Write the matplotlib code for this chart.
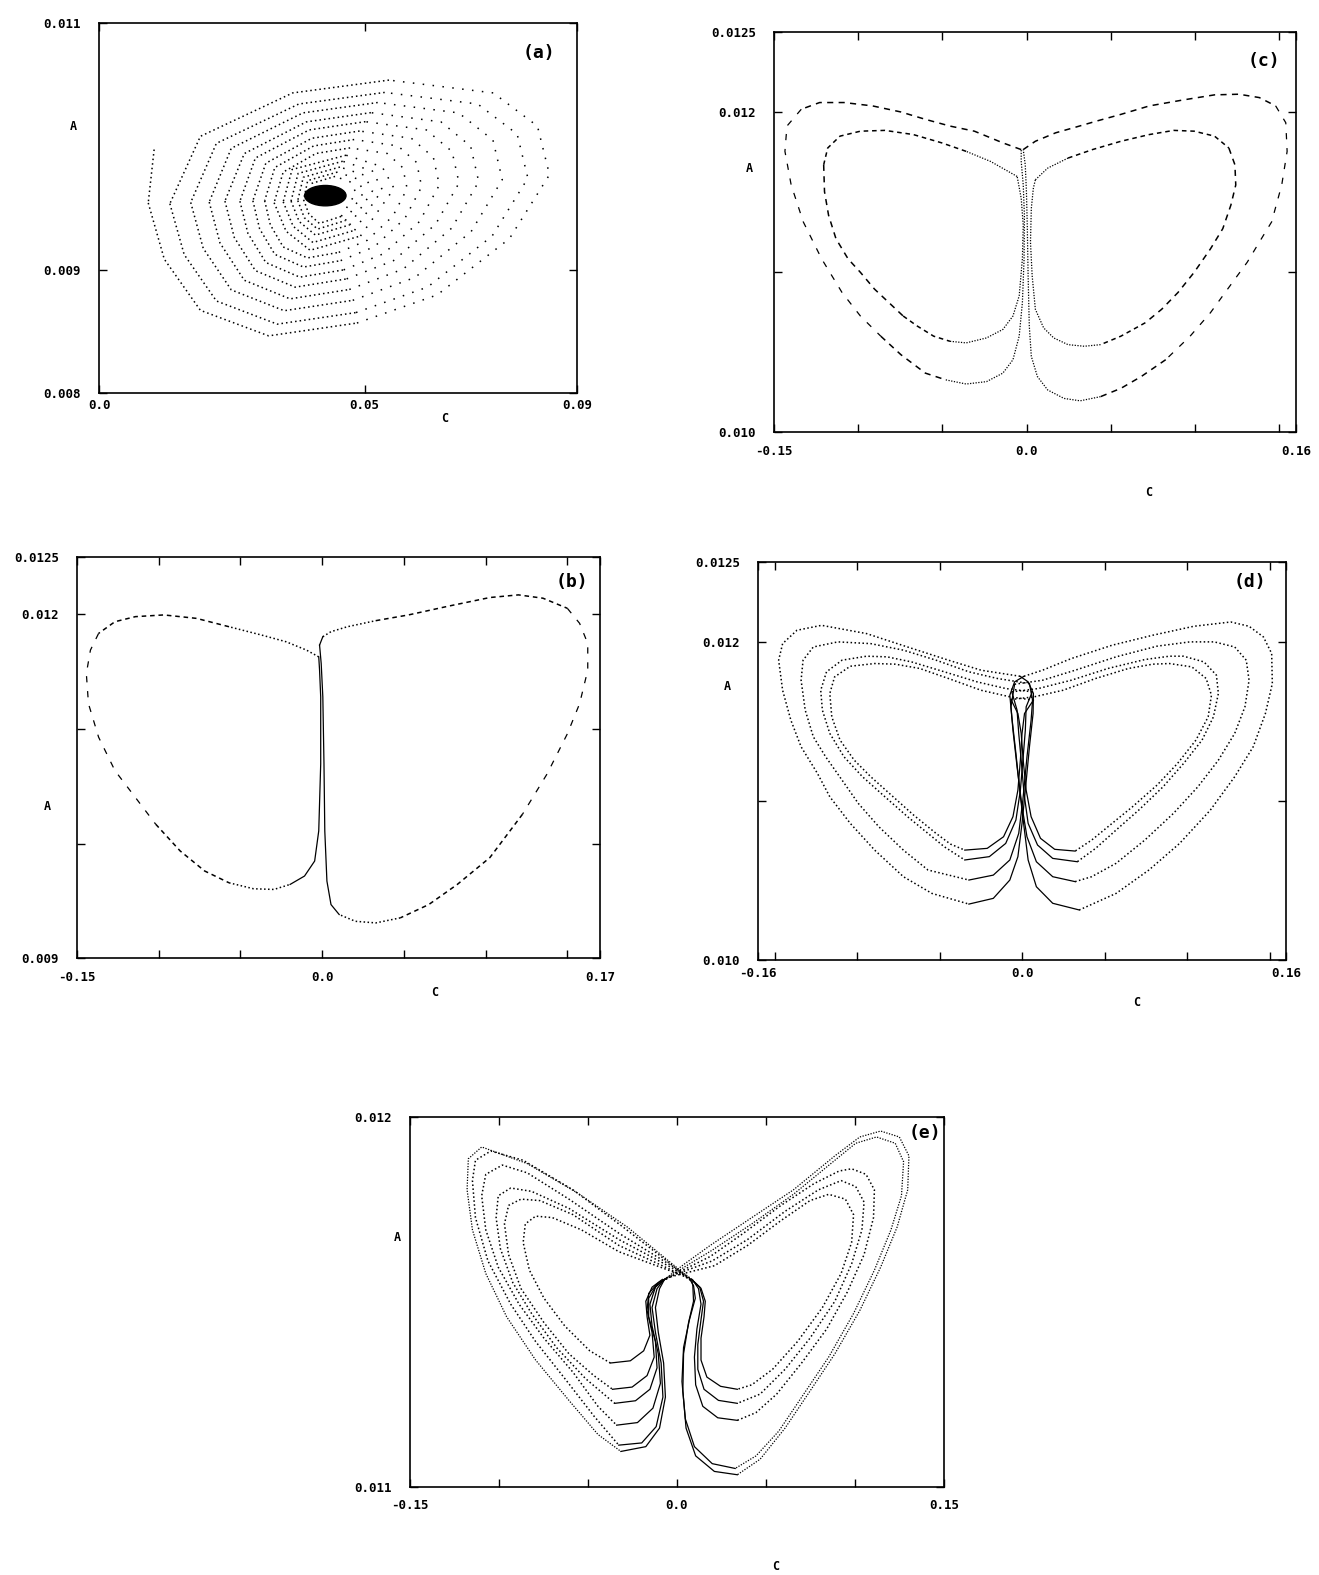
import matplotlib
matplotlib.use('Agg')
import matplotlib.pyplot as plt
import numpy as np
from matplotlib.patches import Ellipse

plt.rcParams['font.family'] = ['DejaVu Sans Mono']
plt.rcParams['font.weight'] = 'bold'

# (a) spiral read ring by ring, outer rings with 13 points, inner ones with 8
SPIRAL_C = [0.01037,
            0.00926, 0.01228, 0.01908, 0.03193, 0.04855, 0.06366, 0.07726, 0.08481, 0.08254, 0.07423, 0.05459, 0.03646, 0.01908,
            0.01333, 0.01603, 0.02209, 0.03355, 0.04838, 0.06187, 0.07400, 0.08074, 0.07872, 0.07130, 0.05378, 0.03760, 0.02209,
            0.01726, 0.01961, 0.02489, 0.03486, 0.04776, 0.05950, 0.07005, 0.07592, 0.07416, 0.06771, 0.05246, 0.03838, 0.02489,
            0.02074, 0.02277, 0.02734, 0.03596, 0.04712, 0.05727, 0.06641, 0.07148, 0.06996, 0.06438, 0.05118, 0.03901, 0.02734,
            0.02370, 0.02546, 0.02943, 0.03692, 0.04662, 0.05544, 0.06337, 0.06778, 0.06646, 0.06161, 0.05015, 0.03957, 0.02943,
            0.02652, 0.02802, 0.03140, 0.03779, 0.04605, 0.05356, 0.06032, 0.06407, 0.06294, 0.05881, 0.04905, 0.04004, 0.03140,
            0.02896, 0.03023, 0.03309, 0.03849, 0.04549, 0.05184, 0.05756, 0.06074, 0.05979, 0.05629, 0.04803, 0.04040, 0.03309,
            0.03118, 0.03225, 0.03467, 0.03923, 0.04513, 0.05049, 0.05532, 0.05800, 0.05720, 0.05425, 0.04727, 0.04084, 0.03467,
            0.03296, 0.03522, 0.03974, 0.04922, 0.05555, 0.05329, 0.04651, 0.03635,
            0.03467, 0.03654, 0.04027, 0.04811, 0.05333, 0.05146, 0.04587, 0.03747,
            0.03615, 0.03768, 0.04075, 0.04719, 0.05148, 0.04995, 0.04535, 0.03845,
            0.03741, 0.03865, 0.04114, 0.04637, 0.04985, 0.04861, 0.04487, 0.03928,
            0.03852, 0.03951, 0.04148, 0.04561, 0.04837, 0.04739, 0.04443, 0.04000]
SPIRAL_A = [0.009974,
            0.009541, 0.009085, 0.008670, 0.008463, 0.008567, 0.008795, 0.009251, 0.009770, 0.010164, 0.010433, 0.010537, 0.010433, 0.010081,
            0.009535, 0.009122, 0.008746, 0.008558, 0.008652, 0.008859, 0.009272, 0.009742, 0.010099, 0.010343, 0.010437, 0.010343, 0.010024,
            0.009545, 0.009173, 0.008836, 0.008667, 0.008751, 0.008937, 0.009308, 0.009730, 0.010051, 0.010271, 0.010355, 0.010271, 0.009984,
            0.009548, 0.009216, 0.008914, 0.008763, 0.008839, 0.009005, 0.009337, 0.009714, 0.010001, 0.010198, 0.010273, 0.010198, 0.009941,
            0.009556, 0.009261, 0.008992, 0.008858, 0.008925, 0.009073, 0.009368, 0.009703, 0.009958, 0.010133, 0.010200, 0.010133, 0.009905,
            0.009555, 0.009295, 0.009058, 0.008939, 0.008998, 0.009129, 0.009389, 0.009686, 0.009911, 0.010065, 0.010124, 0.010065, 0.009863,
            0.009559, 0.009331, 0.009124, 0.009021, 0.009073, 0.009186, 0.009414, 0.009672, 0.009869, 0.010003, 0.010055, 0.010003, 0.009828,
            0.009559, 0.009363, 0.009184, 0.009095, 0.009140, 0.009238, 0.009434, 0.009657, 0.009826, 0.009942, 0.009987, 0.009942, 0.009791,
            0.009543, 0.009311, 0.009157, 0.009273, 0.009658, 0.009835, 0.009928, 0.009812,
            0.009550, 0.009352, 0.009220, 0.009319, 0.009648, 0.009800, 0.009879, 0.009780,
            0.009556, 0.009390, 0.009280, 0.009363, 0.009639, 0.009766, 0.009832, 0.009749,
            0.009560, 0.009421, 0.009329, 0.009398, 0.009629, 0.009736, 0.009791, 0.009722,
            0.009566, 0.009451, 0.009375, 0.009432, 0.009623, 0.009710, 0.009756, 0.009699]
RING_SIZES = [13] * 8 + [8] * 5
FOCUS_C, FOCUS_A = 0.0426, 0.009600
FOCUS_W, FOCUS_H = 0.0078, 0.000165

# (b) periodic orbit, two lobes
B_LEFT_C = [-0.0021, -0.0096, -0.0221, -0.0370, -0.0570, -0.0769, -0.0969, -0.1143, -0.1268, -0.1368,
            -0.1418, -0.1443, -0.1430, -0.1368, -0.1268, -0.1143, -0.1019, -0.0869, -0.0719, -0.0570,
            -0.0420, -0.0295, -0.0196, -0.0108, -0.0046, -0.0021, -0.0009, -0.0009, -0.0016, -0.0021]
B_LEFT_A = [0.011629, 0.011688, 0.011761, 0.011819, 0.011892, 0.011965, 0.011995, 0.011980, 0.011936, 0.011834,
            0.011688, 0.011483, 0.011220, 0.010928, 0.010636, 0.010402, 0.010169, 0.009935, 0.009760, 0.009657,
            0.009605, 0.009599, 0.009643, 0.009716, 0.009847, 0.010110, 0.010695, 0.011279, 0.011513, 0.011629]
B_RIGHT_C = [-0.0016, 0.0004, 0.0054, 0.0154, 0.0328, 0.0528, 0.0777, 0.1026, 0.1201, 0.1351, 0.1500,
             0.1575, 0.1625, 0.1625, 0.1575, 0.1500, 0.1376, 0.1226, 0.1026, 0.0827, 0.0652, 0.0478,
             0.0328, 0.0203, 0.0104, 0.0054, 0.0029, 0.0016, 0.0011, 0.0004, -0.0006, -0.0016]
B_RIGHT_A = [0.011732, 0.011805, 0.011849, 0.011892, 0.011945, 0.011995, 0.012073, 0.012147, 0.012170, 0.012141,
             0.012053, 0.011922, 0.011746, 0.011513, 0.011220, 0.010957, 0.010607, 0.010256, 0.009877, 0.009643,
             0.009467, 0.009351, 0.009307, 0.009321, 0.009380, 0.009467, 0.009672, 0.010110, 0.010695, 0.011279,
             0.011571, 0.011732]

# (c) outer and inner lobe on each side
C_OUTER_L_C = [-0.0032, -0.0141, -0.0310, -0.0455, -0.0601, -0.0746, -0.0915, -0.1084, -0.1229, -0.1338,
               -0.1423, -0.1435, -0.1398, -0.1326, -0.1217, -0.1096, -0.0987, -0.0866, -0.0746, -0.0601,
               -0.0480, -0.0359, -0.0238, -0.0141, -0.0081, -0.0044, -0.0025, -0.0015, -0.0013, -0.0020,
               -0.0032, -0.0032]
C_OUTER_L_A = [0.011765, 0.011807, 0.011880, 0.011912, 0.011954, 0.012000, 0.012038, 0.012059, 0.012059, 0.012017,
               0.011912, 0.011754, 0.011544, 0.011313, 0.011082, 0.010872, 0.010725, 0.010599, 0.010483, 0.010368,
               0.010326, 0.010300, 0.010315, 0.010368, 0.010452, 0.010599, 0.010809, 0.011082, 0.011355, 0.011544,
               0.011691, 0.011765]
C_INNER_L_C = [-0.0056, -0.0214, -0.0359, -0.0504, -0.0673, -0.0842, -0.0987, -0.1108, -0.1181, -0.1205,
               -0.1200, -0.1176, -0.1132, -0.1060, -0.0987, -0.0903, -0.0818, -0.0733, -0.0649, -0.0552,
               -0.0455, -0.0359, -0.0238, -0.0141, -0.0081, -0.0044, -0.0025, -0.0020, -0.0032, -0.0056]
C_INNER_L_A = [0.011597, 0.011691, 0.011754, 0.011807, 0.011859, 0.011885, 0.011880, 0.011849, 0.011775, 0.011670,
               0.011502, 0.011355, 0.011208, 0.011082, 0.010998, 0.010893, 0.010809, 0.010725, 0.010662, 0.010599,
               0.010567, 0.010557, 0.010588, 0.010641, 0.010725, 0.010851, 0.011082, 0.011292, 0.011460, 0.011597]
C_OUTER_R_C = [-0.0020, 0.0052, 0.0173, 0.0294, 0.0415, 0.0560, 0.0729, 0.0923, 0.1116, 0.1261, 0.1382, 0.1479,
               0.1539, 0.1547, 0.1515, 0.1455, 0.1382, 0.1310, 0.1237, 0.1092, 0.0971, 0.0826, 0.0681, 0.0560,
               0.0439, 0.0318, 0.0222, 0.0125, 0.0064, 0.0028, 0.0016, 0.0009, 0.0004, -0.0001, -0.0008, -0.0020]
C_OUTER_R_A = [0.011765, 0.011817, 0.011870, 0.011906, 0.011943, 0.011985, 0.012038, 0.012074, 0.012107, 0.012111,
               0.012090, 0.012038, 0.011933, 0.011754, 0.011544, 0.011313, 0.011187, 0.011061, 0.010956, 0.010746,
               0.010599, 0.010452, 0.010347, 0.010273, 0.010221, 0.010195, 0.010210, 0.010263, 0.010347, 0.010473,
               0.010662, 0.010977, 0.011292, 0.011502, 0.011670, 0.011765]
C_INNER_R_C = [0.0052, 0.0125, 0.0246, 0.0391, 0.0560, 0.0729, 0.0874, 0.0995, 0.1116, 0.1201, 0.1237, 0.1242,
               0.1213, 0.1165, 0.1092, 0.0995, 0.0899, 0.0802, 0.0705, 0.0560, 0.0439, 0.0342, 0.0246, 0.0161,
               0.0101, 0.0052, 0.0033, 0.0023, 0.0028, 0.0040, 0.0052]
C_INNER_R_A = [0.011576, 0.011649, 0.011712, 0.011765, 0.011817, 0.011859, 0.011885, 0.011880, 0.011849, 0.011775,
               0.011670, 0.011544, 0.011418, 0.011271, 0.011145, 0.010998, 0.010872, 0.010767, 0.010683, 0.010599,
               0.010546, 0.010536, 0.010546, 0.010588, 0.010651, 0.010767, 0.010977, 0.011187, 0.011397, 0.011523,
               0.011576]

# (d) four lobes each side
D_L1_C = [-0.0012, -0.0248, -0.0446, -0.0694, -0.0942, -0.1215, -0.1364, -0.1451, -0.1475, -0.1451, -0.1401,
          -0.1339, -0.1240, -0.1165, -0.1041, -0.0893, -0.0719, -0.0546, -0.0322, -0.0174, -0.0074, -0.0025,
          0.0, 0.0020, 0.0045, 0.0067, 0.0069, 0.0037, -0.0012]
D_L1_A = [0.011782, 0.011820, 0.011883, 0.011966, 0.012050, 0.012102, 0.012071, 0.011987, 0.011883, 0.011694,
          0.011506, 0.011339, 0.011172, 0.011025, 0.010858, 0.010690, 0.010523, 0.010418, 0.010351, 0.010387,
          0.010502, 0.010649, 0.010858, 0.011067, 0.011339, 0.011548, 0.011674, 0.011747, 0.011782]
D_L2_C = [0.0045, -0.0149, -0.0322, -0.0521, -0.0719, -0.0917, -0.1116, -0.1265, -0.1327, -0.1339, -0.1314,
          -0.1265, -0.1190, -0.1091, -0.0992, -0.0868, -0.0719, -0.0570, -0.0322, -0.0174, -0.0074, -0.0020,
          0.0005, 0.0030, 0.0055, 0.0064, 0.0045]
D_L2_A = [0.011736, 0.011768, 0.011810, 0.011883, 0.011946, 0.011987, 0.011998, 0.011966, 0.011883, 0.011757,
          0.011569, 0.011402, 0.011276, 0.011130, 0.010983, 0.010837, 0.010690, 0.010565, 0.010502, 0.010533,
          0.010628, 0.010795, 0.011004, 0.011276, 0.011506, 0.011632, 0.011736]
D_L3_C = [0.0062, -0.0099, -0.0273, -0.0471, -0.0669, -0.0818, -0.0942, -0.1091, -0.1185, -0.1220, -0.1210,
          -0.1165, -0.1079, -0.0967, -0.0831, -0.0694, -0.0570, -0.0471, -0.0347, -0.0198, -0.0099, -0.0037,
          -0.0010, 0.0007, 0.0020, 0.0025, 0.0062]
D_L3_A = [0.011684, 0.011705, 0.011747, 0.011810, 0.011872, 0.011904, 0.011908, 0.011883, 0.011810, 0.011694,
          0.011569, 0.011423, 0.011276, 0.011151, 0.011025, 0.010900, 0.010795, 0.010711, 0.010628, 0.010649,
          0.010732, 0.010879, 0.011067, 0.011276, 0.011443, 0.011590, 0.011684]
D_L4_C = [0.0069, -0.0074, -0.0248, -0.0446, -0.0620, -0.0769, -0.0893, -0.1041, -0.1136, -0.1165, -0.1153,
          -0.1103, -0.1017, -0.0917, -0.0793, -0.0657, -0.0521, -0.0434, -0.0347, -0.0211, -0.0112, -0.0055,
          -0.0025, -0.0010, 0.0, 0.0015, 0.0069]
D_L4_A = [0.011632, 0.011653, 0.011694, 0.011768, 0.011831, 0.011858, 0.011862, 0.011845, 0.011778, 0.011674,
          0.011527, 0.011381, 0.011255, 0.011151, 0.011036, 0.010910, 0.010795, 0.010728, 0.010690, 0.010701,
          0.010774, 0.010900, 0.011067, 0.011255, 0.011423, 0.011548, 0.011632]
D_R1_C = [0.0012, 0.0124, 0.0298, 0.0546, 0.0793, 0.1041, 0.1265, 0.1376, 0.1463, 0.1513, 0.1517, 0.1475,
          0.1401, 0.1289, 0.1141, 0.0955, 0.0769, 0.0570, 0.0347, 0.0186, 0.0087, 0.0037, 0.0012, -0.0012,
          -0.0037, -0.0062, -0.0074, -0.0045, 0.0012]
D_R1_A = [0.011782, 0.011820, 0.011893, 0.011977, 0.012040, 0.012096, 0.012123, 0.012096, 0.012029, 0.011925,
          0.011736, 0.011548, 0.011339, 0.011151, 0.010941, 0.010732, 0.010565, 0.010418, 0.010314, 0.010356,
          0.010460, 0.010628, 0.010837, 0.011046, 0.011297, 0.011527, 0.011663, 0.011747, 0.011782]
D_R2_C = [-0.0045, 0.0124, 0.0322, 0.0570, 0.0818, 0.1017, 0.1165, 0.1289, 0.1359, 0.1376, 0.1351, 0.1289,
          0.1190, 0.1066, 0.0917, 0.0744, 0.0570, 0.0422, 0.0322, 0.0186, 0.0087, 0.0030, 0.0, -0.0030,
          -0.0055, -0.0067, -0.0045]
D_R2_A = [0.011732, 0.011757, 0.011820, 0.011904, 0.011971, 0.011998, 0.011998, 0.011966, 0.011883, 0.011757,
          0.011590, 0.011423, 0.011255, 0.011088, 0.010920, 0.010753, 0.010607, 0.010523, 0.010492, 0.010523,
          0.010617, 0.010774, 0.010962, 0.011213, 0.011443, 0.011590, 0.011732]
D_R3_C = [-0.0062, 0.0099, 0.0298, 0.0521, 0.0744, 0.0893, 0.0979, 0.1103, 0.1178, 0.1190, 0.1160, 0.1091,
          0.0979, 0.0855, 0.0707, 0.0570, 0.0446, 0.0335, 0.0186, 0.0094, 0.0037, 0.0012, -0.0005, -0.0020,
          -0.0030, -0.0062]
D_R3_A = [0.011684, 0.011705, 0.011757, 0.011831, 0.011887, 0.011908, 0.011908, 0.011872, 0.011789, 0.011674,
          0.011527, 0.011381, 0.011234, 0.011088, 0.010941, 0.010816, 0.010701, 0.010617, 0.010638, 0.010722,
          0.010858, 0.011046, 0.011255, 0.011423, 0.011569, 0.011684]
D_R4_C = [-0.0067, 0.0074, 0.0248, 0.0446, 0.0645, 0.0793, 0.0893, 0.1029, 0.1116, 0.1148, 0.1128, 0.1054,
          0.0942, 0.0818, 0.0669, 0.0533, 0.0422, 0.0322, 0.0198, 0.0112, 0.0055, 0.0025, 0.0007, -0.0005,
          -0.0025, -0.0067]
D_R4_A = [0.011636, 0.011653, 0.011694, 0.011768, 0.011831, 0.011858, 0.011862, 0.011841, 0.011768, 0.011663,
          0.011527, 0.011381, 0.011234, 0.011098, 0.010962, 0.010847, 0.010753, 0.010684, 0.010695, 0.010764,
          0.010900, 0.011067, 0.011255, 0.011423, 0.011548, 0.011636]

# (e) chaotic attractor: open lobes, each entering over the central crossing from the other side
E_L1_C = [0.0082, -0.0040, -0.0280, -0.0560, -0.0841, -0.1097, -0.1172, -0.1179, -0.1149, -0.1074, -0.0957,
          -0.0794, -0.0607, -0.0444, -0.0315, -0.0175, -0.0098, -0.0065, -0.0075, -0.0105, -0.0121, -0.0098,
          -0.0070]
E_L1_A = [0.011561, 0.011608, 0.011703, 0.011795, 0.011874, 0.011919, 0.011887, 0.011803, 0.011695, 0.011577,
          0.011460, 0.011343, 0.011234, 0.011142, 0.011096, 0.011109, 0.011159, 0.011243, 0.011335, 0.011418,
          0.011485, 0.011536, 0.011561]
E_L2_C = [0.0075, -0.0060, -0.0304, -0.0584, -0.0864, -0.1046, -0.1132, -0.1149, -0.1132, -0.1062, -0.0934,
          -0.0794, -0.0630, -0.0467, -0.0327, -0.0198, -0.0117, -0.0079, -0.0089, -0.0121, -0.0140, -0.0112,
          -0.0075]
E_L2_A = [0.011559, 0.011612, 0.011703, 0.011803, 0.011883, 0.011908, 0.011883, 0.011828, 0.011728, 0.011611,
          0.011494, 0.011393, 0.011293, 0.011192, 0.011113, 0.011119, 0.011163, 0.011243, 0.011335, 0.011418,
          0.011485, 0.011536, 0.011559]
E_L3_C = [0.0089, -0.0020, -0.0327, -0.0607, -0.0841, -0.0981, -0.1074, -0.1097, -0.1074, -0.1004, -0.0887,
          -0.0747, -0.0584, -0.0444, -0.0339, -0.0222, -0.0135, -0.0093, -0.0105, -0.0140, -0.0152, -0.0121,
          -0.0082]
E_L3_A = [0.011559, 0.011595, 0.011686, 0.011778, 0.011849, 0.011870, 0.011845, 0.011787, 0.011695, 0.011594,
          0.011494, 0.011402, 0.011310, 0.011218, 0.011167, 0.011174, 0.011213, 0.011280, 0.011360, 0.011435,
          0.011494, 0.011540, 0.011556]
E_L4_C = [0.0093, 0.0, -0.0327, -0.0607, -0.0817, -0.0934, -0.1004, -0.1016, -0.0992, -0.0922, -0.0817,
          -0.0677, -0.0514, -0.0350, -0.0233, -0.0152, -0.0112, -0.0121, -0.0159, -0.0159, -0.0117, -0.0065]
E_L4_A = [0.011556, 0.011585, 0.011669, 0.011753, 0.011799, 0.011808, 0.011787, 0.011728, 0.011644, 0.011552,
          0.011469, 0.011377, 0.011293, 0.011226, 0.011233, 0.011264, 0.011322, 0.011393, 0.011460, 0.011510,
          0.011544, 0.011562]
E_L5_C = [0.0098, 0.0020, -0.0327, -0.0584, -0.0770, -0.0876, -0.0946, -0.0969, -0.0946, -0.0876, -0.0747,
          -0.0607, -0.0467, -0.0362, -0.0252, -0.0168, -0.0128, -0.0140, -0.0168, -0.0159, -0.0105, -0.0058]
E_L5_A = [0.011554, 0.011575, 0.011653, 0.011736, 0.011774, 0.011778, 0.011761, 0.011711, 0.011628, 0.011536,
          0.011444, 0.011360, 0.011301, 0.011264, 0.011270, 0.011301, 0.011351, 0.011418, 0.011477, 0.011523,
          0.011552, 0.011565]
E_L6_C = [0.0082, 0.0030, -0.0327, -0.0537, -0.0700, -0.0794, -0.0852, -0.0864, -0.0829, -0.0747, -0.0630,
          -0.0490, -0.0374, -0.0262, -0.0187, -0.0152, -0.0168, -0.0175, -0.0140, -0.0082]
E_L6_A = [0.011561, 0.011572, 0.011636, 0.011695, 0.011728, 0.011732, 0.011711, 0.011661, 0.011586, 0.011510,
          0.011435, 0.011368, 0.011335, 0.011341, 0.011368, 0.011410, 0.011460, 0.011502, 0.011540, 0.011561]
E_R1_C = [-0.0070, 0.0040, 0.0187, 0.0420, 0.0654, 0.0887, 0.1027, 0.1144, 0.1249, 0.1303, 0.1296, 0.1237, 0.1144,
          0.1027, 0.0887, 0.0747, 0.0607, 0.0467, 0.0339, 0.0210, 0.0105, 0.0051, 0.0033, 0.0037, 0.0065, 0.0093,
          0.0089, 0.0082]
E_R1_A = [0.011561, 0.011602, 0.011653, 0.011728, 0.011803, 0.011895, 0.011946, 0.011962, 0.011946, 0.011895,
          0.011803, 0.011703, 0.011594, 0.011477, 0.011360, 0.011259, 0.011159, 0.011075, 0.011033, 0.011042,
          0.011084, 0.011159, 0.011259, 0.011360, 0.011444, 0.011502, 0.011544, 0.011561]
E_R2_C = [-0.0075, 0.0060, 0.0198, 0.0420, 0.0654, 0.0864, 0.1004, 0.1121, 0.1226, 0.1273, 0.1261, 0.1202, 0.1109,
          0.0992, 0.0852, 0.0712, 0.0572, 0.0444, 0.0327, 0.0198, 0.0098, 0.0047, 0.0028, 0.0037, 0.0070, 0.0103,
          0.0093, 0.0075]
E_R2_A = [0.011559, 0.011600, 0.011640, 0.011711, 0.011791, 0.011874, 0.011929, 0.011946, 0.011929, 0.011879,
          0.011787, 0.011695, 0.011586, 0.011469, 0.011351, 0.011251, 0.011151, 0.011084, 0.011050, 0.011063,
          0.011109, 0.011184, 0.011285, 0.011377, 0.011452, 0.011510, 0.011544, 0.011559]
E_R3_C = [-0.0082, 0.0020, 0.0187, 0.0374, 0.0584, 0.0770, 0.0911, 0.0981, 0.1062, 0.1109, 0.1104, 0.1051, 0.0957,
          0.0841, 0.0700, 0.0560, 0.0444, 0.0339, 0.0229, 0.0145, 0.0105, 0.0098, 0.0112, 0.0135, 0.0121, 0.0089]
E_R3_A = [0.011556, 0.011583, 0.011623, 0.011686, 0.011761, 0.011820, 0.011854, 0.011860, 0.011845, 0.011803,
          0.011728, 0.011628, 0.011527, 0.011427, 0.011335, 0.011251, 0.011201, 0.011180, 0.011187, 0.011218,
          0.011276, 0.011351, 0.011427, 0.011494, 0.011536, 0.011559]
E_R4_C = [-0.0065, 0.0, 0.0198, 0.0397, 0.0607, 0.0794, 0.0922, 0.1004, 0.1051, 0.1039, 0.0981, 0.0887, 0.0747,
          0.0607, 0.0467, 0.0339, 0.0233, 0.0152, 0.0117, 0.0117, 0.0135, 0.0149, 0.0128, 0.0093]
E_R4_A = [0.011562, 0.011576, 0.011611, 0.011669, 0.011745, 0.011803, 0.011828, 0.011812, 0.011770, 0.011695,
          0.011603, 0.011502, 0.011402, 0.011318, 0.011251, 0.011226, 0.011234, 0.011264, 0.011318, 0.011385,
          0.011452, 0.011502, 0.011540, 0.011556]
E_R5_C = [-0.0058, -0.0020, 0.0210, 0.0397, 0.0584, 0.0747, 0.0852, 0.0946, 0.0992, 0.0981, 0.0922, 0.0817, 0.0677,
          0.0537, 0.0420, 0.0339, 0.0245, 0.0168, 0.0135, 0.0135, 0.0152, 0.0159, 0.0135, 0.0098]
E_R5_A = [0.011565, 0.011570, 0.011598, 0.011653, 0.011720, 0.011774, 0.011791, 0.011778, 0.011736, 0.011661,
          0.011577, 0.011485, 0.011393, 0.011318, 0.011276, 0.011264, 0.011272, 0.011297, 0.011343, 0.011402,
          0.011460, 0.011502, 0.011537, 0.011554]

# axis ticks and their labels per panel
A_XT, A_XL = [0.0, 0.05, 0.09], ['0.0', '0.05', '0.09']
A_YT, A_YL = [0.008, 0.009, 0.011], ['0.008', '0.009', '0.011']
B_XT = [-0.15, -0.10, -0.05, 0.0, 0.05, 0.10, 0.15, 0.17]
B_XL = ['-0.15', '', '', '0.0', '', '', '', '0.17']
B_YT, B_YL = [0.009, 0.010, 0.011, 0.012, 0.0125], ['0.009', '', '', '0.012', '0.0125']
C_XT = [-0.15, -0.10, -0.05, 0.0, 0.05, 0.10, 0.15, 0.16]
C_XL = ['-0.15', '', '', '0.0', '', '', '', '0.16']
C_YT, C_YL = [0.010, 0.011, 0.012, 0.0125], ['0.010', '', '0.012', '0.0125']
D_XT = [-0.16, -0.15, -0.10, -0.05, 0.0, 0.05, 0.10, 0.15, 0.16]
D_XL = ['-0.16', '', '', '', '0.0', '', '', '', '0.16']
D_YT, D_YL = [0.010, 0.011, 0.012, 0.0125], ['0.010', '', '0.012', '0.0125']
E_XT = [-0.15, -0.10, -0.05, 0.0, 0.05, 0.10, 0.15]
E_XL = ['-0.15', '', '', '0.0', '', '', '0.15']
E_YT, E_YL = [0.011, 0.012], ['0.011', '0.012']

DOTS = dict(ls=(0, (1, 1.6)), lw=1.1)
FINE = dict(ls=(0, (1, 1.2)), lw=0.9)
DASH_S = dict(ls=(0, (3, 2.5)), lw=1.1)
DASH = dict(ls=(0, (4, 3.5)), lw=1.1)
LDASH = dict(ls=(0, (5, 7)), lw=0.9)
SOLID = dict(ls='-', lw=0.9)
SPIRAL_DENSE = dict(ls=(0, (1, 2.0)), lw=1.1)
SPIRAL_SPARSE = dict(ls=(0, (1, 5.5)), lw=1.1)


def seg(ax, c, a, i, j, style):
    ax.plot(c[i:j + 1], a[i:j + 1], color='black', dash_capstyle='butt', **style)


def lobe(ax, c, a, outer, inner):
    # dotted part runs down to the lowest point, then the solid stem back up the centre
    k = int(np.argmin(a))
    seg(ax, c, a, 0, k, outer)
    seg(ax, c, a, k, len(c) - 1, inner)


def spiral(ax):
    seg(ax, SPIRAL_C, SPIRAL_A, 0, 1, SPIRAL_DENSE)
    start = 1
    last = len(SPIRAL_C) - 1
    for n in RING_SIZES:
        s0, s1 = (4, 10) if n == 13 else (3, 6)
        seg(ax, SPIRAL_C, SPIRAL_A, start, start + s0, SPIRAL_DENSE)
        seg(ax, SPIRAL_C, SPIRAL_A, start + s0, start + s1, SPIRAL_SPARSE)
        seg(ax, SPIRAL_C, SPIRAL_A, start + s1, min(start + n, last), SPIRAL_DENSE)
        start += n
    ax.add_patch(Ellipse((FOCUS_C, FOCUS_A), FOCUS_W, FOCUS_H, color='black'))


def frame(ax, xlim, ylim, xt, xl, yt, yl, xpad, label, lpos, apos, cpos):
    ax.set_xlim(*xlim)
    ax.set_ylim(*ylim)
    ax.set_xticks(xt)
    ax.set_xticklabels(xl)
    ax.set_yticks(yt)
    ax.set_yticklabels(yl)
    ax.tick_params(direction='in', length=6, width=1.0, top=True, right=True, labelsize=9)
    ax.tick_params(axis='x', pad=xpad)
    ax.tick_params(axis='y', pad=13)
    for s in ax.spines.values():
        s.set_linewidth(1.2)
    ax.text(lpos[0], lpos[1], label, transform=ax.transAxes, fontsize=13,
            ha='center', va='center')
    ax.text(apos[0], apos[1], 'A', transform=ax.transAxes, fontsize=8.5, ha='center', va='center')
    ax.text(cpos[0], cpos[1], 'C', transform=ax.transAxes, fontsize=8.5, ha='center', va='center')


def main():
    fig = plt.figure(figsize=(13.19, 15.75), dpi=100)

    ax = fig.add_axes([0.0751, 0.7505, 0.3624, 0.2349])
    spiral(ax)
    frame(ax, (0.0, 0.09), (0.008, 0.011), A_XT, A_XL, A_YT, A_YL, 4, '(a)',
          (0.92, 0.92), (-0.054, 0.72), (0.723, -0.068))

    ax = fig.add_axes([0.5868, 0.7257, 0.3958, 0.2540])
    for i, j, st in [(0, 9, DASH), (9, 17, LDASH), (17, 20, DASH), (20, 31, FINE)]:
        seg(ax, C_OUTER_L_C, C_OUTER_L_A, i, j, st)
    for i, j, st in [(0, 2, FINE), (2, 9, DASH_S), (9, 17, DASH), (17, 20, DASH_S), (20, 29, FINE)]:
        seg(ax, C_INNER_L_C, C_INNER_L_A, i, j, st)
    for i, j, st in [(0, 11, DASH), (11, 21, LDASH), (21, 24, DASH), (24, 35, FINE)]:
        seg(ax, C_OUTER_R_C, C_OUTER_R_A, i, j, st)
    for i, j, st in [(0, 2, FINE), (2, 9, DASH_S), (9, 18, DASH), (18, 20, DASH_S), (20, 30, FINE)]:
        seg(ax, C_INNER_R_C, C_INNER_R_A, i, j, st)
    frame(ax, (-0.15, 0.16), (0.010, 0.0125), C_XT, C_XL, C_YT, C_YL, 9, '(c)',
          (0.939, 0.928), (-0.048, 0.658), (0.718, -0.150))

    ax = fig.add_axes([0.0584, 0.3917, 0.3965, 0.2546])
    for i, j, st in [(0, 4, DOTS), (4, 9, DASH_S), (9, 16, LDASH), (16, 19, DASH_S), (19, 22, DOTS),
                     (22, 29, SOLID)]:
        seg(ax, B_LEFT_C, B_LEFT_A, i, j, st)
    for i, j, st in [(0, 1, SOLID), (1, 4, DOTS), (4, 10, DASH_S), (10, 17, LDASH), (17, 21, DASH_S),
                     (21, 24, DOTS), (24, 31, SOLID)]:
        seg(ax, B_RIGHT_C, B_RIGHT_A, i, j, st)
    frame(ax, (-0.15, 0.17), (0.009, 0.0125), B_XT, B_XL, B_YT, B_YL, 9, '(b)',
          (0.946, 0.938), (-0.057, 0.377), (0.684, -0.085))

    ax = fig.add_axes([0.5747, 0.3905, 0.4003, 0.2527])
    for c, a in [(D_L1_C, D_L1_A), (D_L2_C, D_L2_A), (D_L3_C, D_L3_A), (D_L4_C, D_L4_A),
                 (D_R1_C, D_R1_A), (D_R2_C, D_R2_A), (D_R3_C, D_R3_A), (D_R4_C, D_R4_A)]:
        lobe(ax, c, a, DOTS, SOLID)
    frame(ax, (-0.16, 0.16), (0.010, 0.0125), D_XT, D_XL, D_YT, D_YL, 5, '(d)',
          (0.932, 0.95), (-0.059, 0.686), (0.718, -0.106))

    ax = fig.add_axes([0.3108, 0.0559, 0.4049, 0.2349])
    for c, a in [(E_L1_C, E_L1_A), (E_R1_C, E_R1_A), (E_R2_C, E_R2_A)]:
        lobe(ax, c, a, FINE, SOLID)
    for c, a in [(E_L2_C, E_L2_A), (E_L3_C, E_L3_A), (E_L4_C, E_L4_A), (E_L5_C, E_L5_A), (E_L6_C, E_L6_A),
                 (E_R3_C, E_R3_A), (E_R4_C, E_R4_A), (E_R5_C, E_R5_A)]:
        lobe(ax, c, a, DOTS, SOLID)
    frame(ax, (-0.15, 0.15), (0.011, 0.012), E_XT, E_XL, E_YT, E_YL, 9, '(e)',
          (0.964, 0.957), (-0.024, 0.673), (0.685, -0.216))

    fig.savefig('out.png', dpi=100)


if __name__ == '__main__':
    main()
